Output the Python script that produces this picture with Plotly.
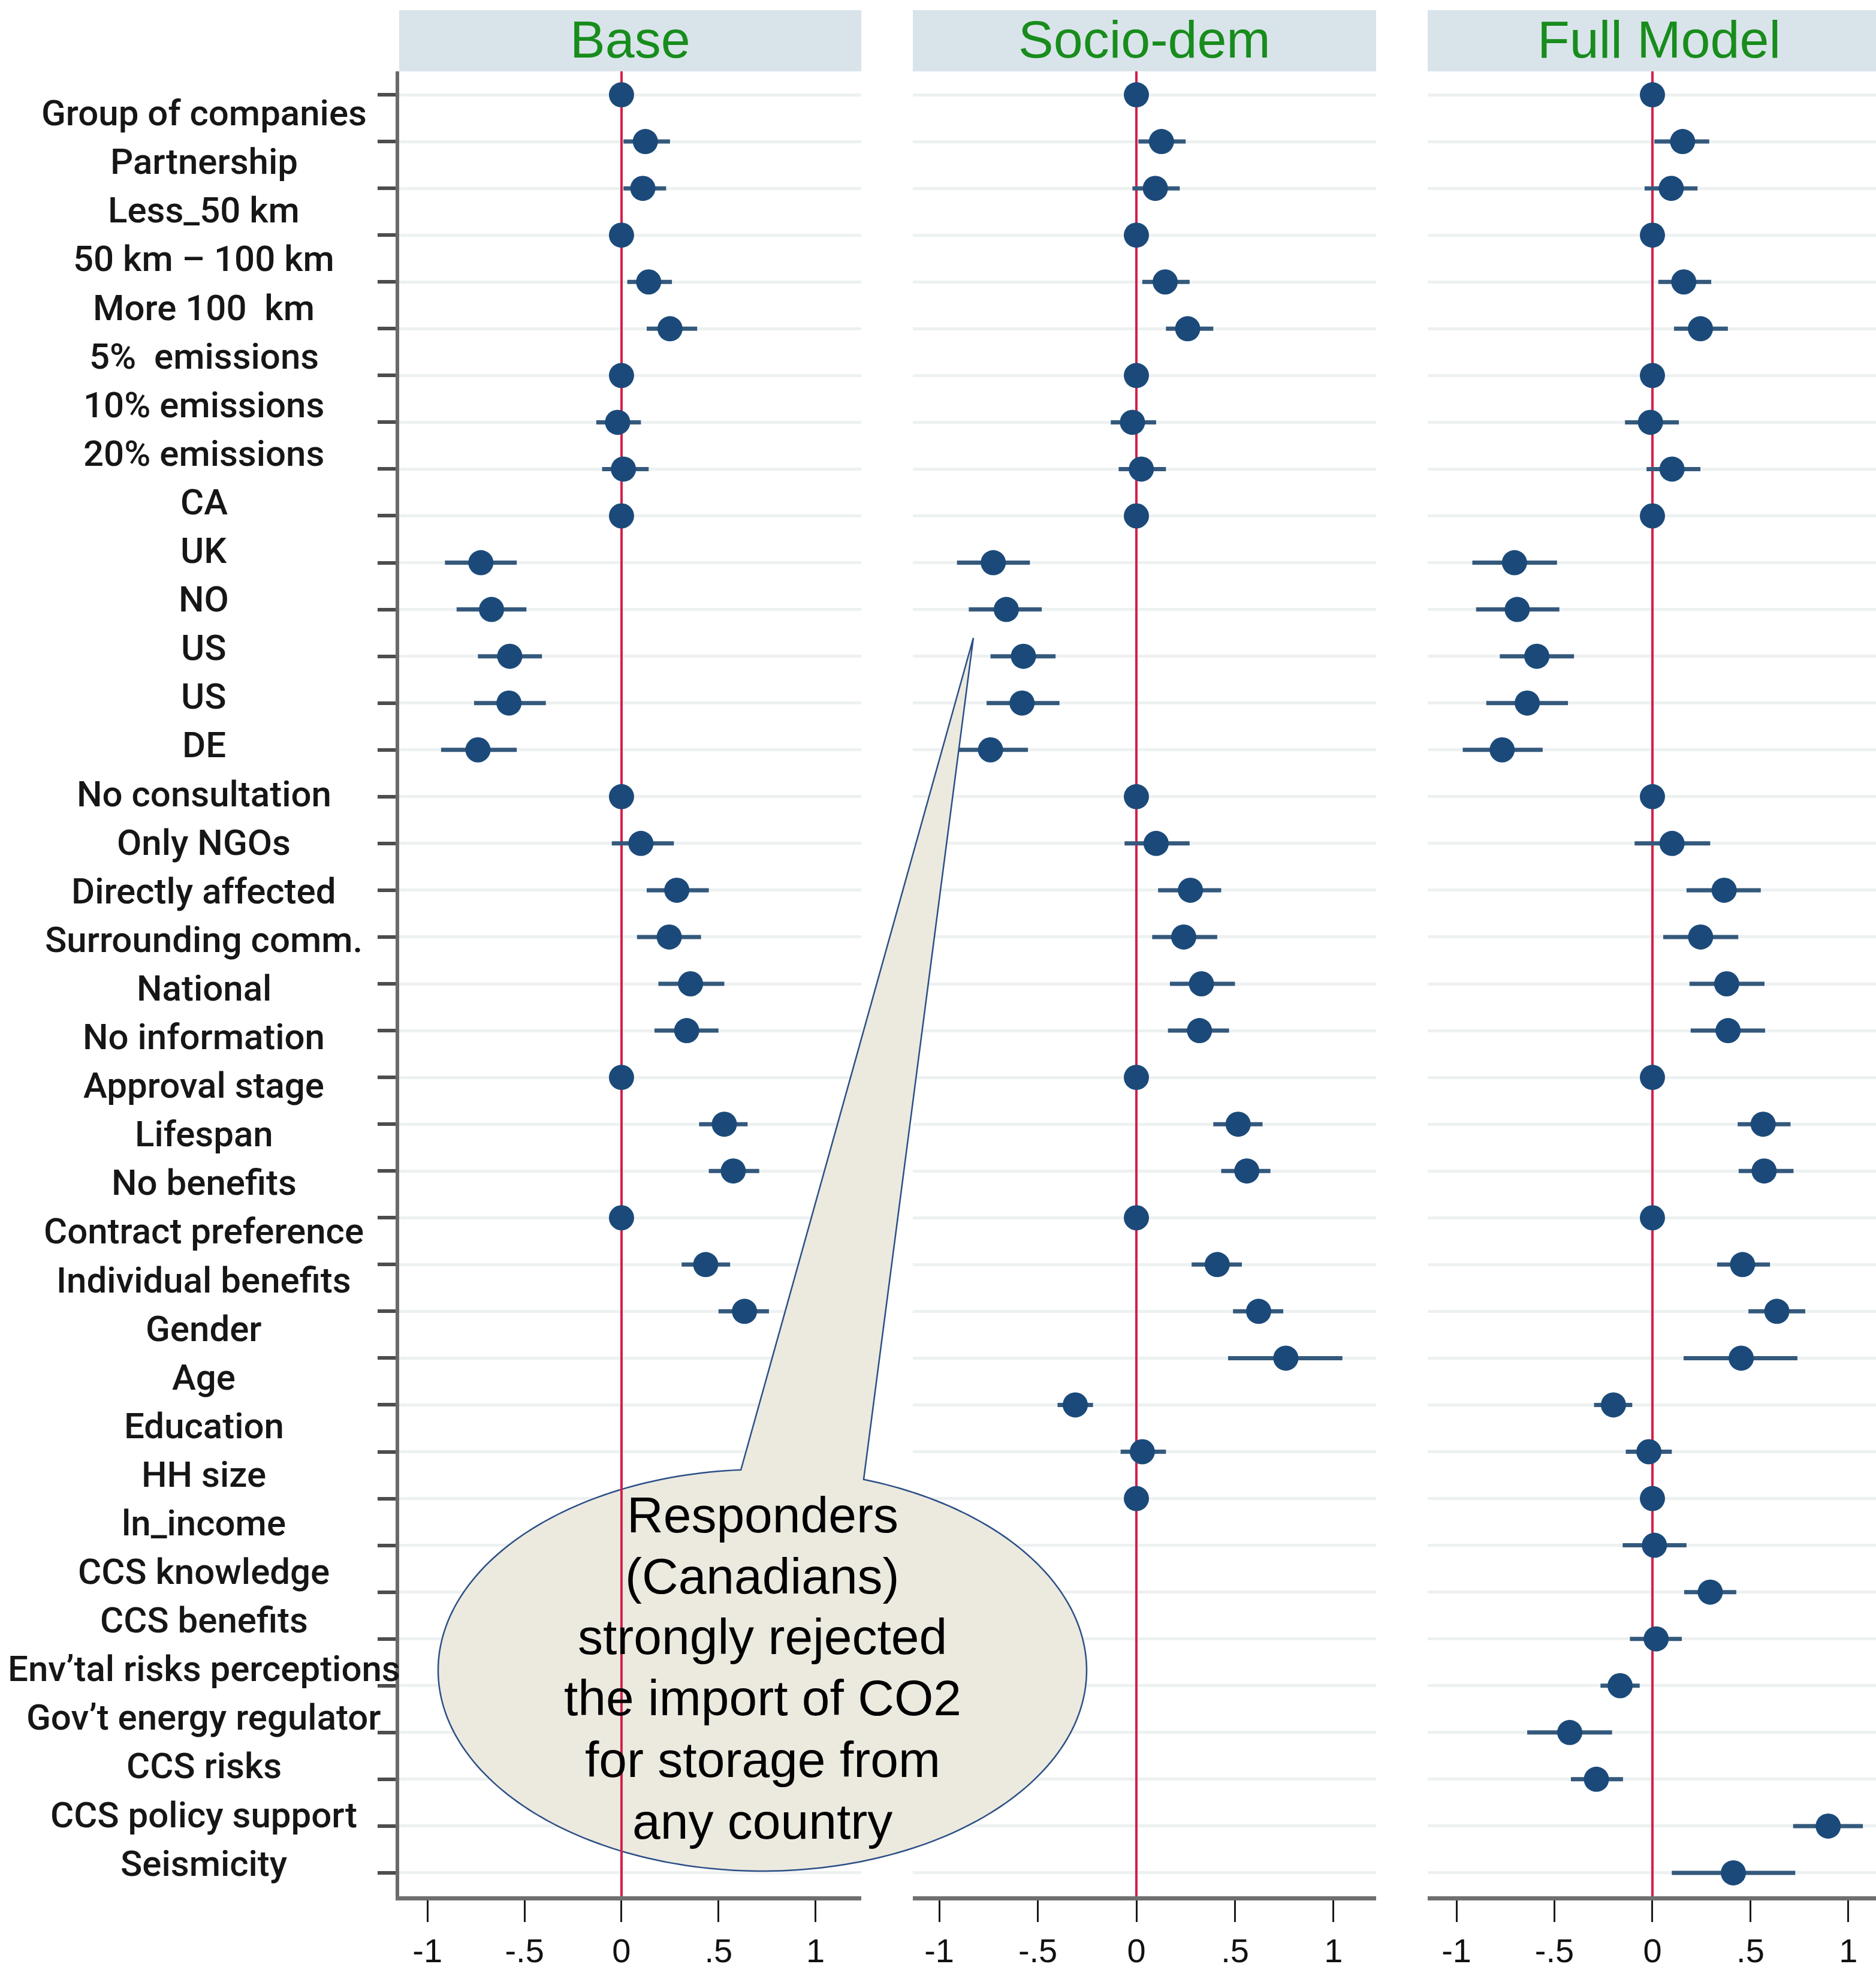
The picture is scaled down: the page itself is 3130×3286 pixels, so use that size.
import numpy as np
import plotly.graph_objects as go

# ---- data -----------------------------------------------------------------
row_ids = list(range(1, 40))

row_labels = [
    "Group of companies", "Partnership", "Less_50 km", "50 km \u2013 100 km",
    "More 100  km", "5%  emissions", "10% emissions", "20% emissions", "CA",
    "UK", "NO", "US", "US", "DE", "No consultation", "Only NGOs",
    "Directly affected", "Surrounding comm.", "National", "No information",
    "Approval stage", "Lifespan", "No benefits", "Contract preference",
    "Individual benefits", "Gender", "Age", "Education", "HH size",
    "ln_income", "CCS knowledge", "CCS benefits",
    "Env\u2019tal risks perceptions", "Gov\u2019t energy regulator",
    "CCS risks", "CCS policy support", "Seismicity",
]

panel_titles = ["Base", "Socio-dem", "Full Model"]

base_coef = [0, 0.123, 0.11, 0, 0.14, 0.25, 0, -0.02, 0.01, 0,
             -0.725, -0.67, -0.576, -0.58, -0.74, 0, 0.10, 0.285, 0.246, 0.356,
             0.336, 0, 0.53, 0.576, 0, 0.434, 0.634]
base_lo = [0, 0.01, 0.01, 0, 0.03, 0.13, 0, -0.13, -0.10, 0,
           -0.91, -0.85, -0.74, -0.76, -0.93, 0, -0.05, 0.13, 0.08, 0.19,
           0.17, 0, 0.40, 0.45, 0, 0.31, 0.50]
base_hi = [0, 0.25, 0.23, 0, 0.26, 0.39, 0, 0.10, 0.14, 0,
           -0.54, -0.49, -0.41, -0.39, -0.54, 0, 0.27, 0.45, 0.41, 0.53,
           0.50, 0, 0.65, 0.71, 0, 0.56, 0.76]

socio_coef = [0, 0.127, 0.096, 0, 0.146, 0.26, 0, -0.02, 0.025, 0,
              -0.726, -0.66, -0.573, -0.58, -0.74, 0, 0.10, 0.274, 0.24, 0.33,
              0.32, 0, 0.516, 0.56, 0, 0.41, 0.62, 0.758, -0.31, 0.03,
              0]
socio_lo = [0, 0.01, -0.02, 0, 0.03, 0.15, 0, -0.13, -0.09, 0,
            -0.91, -0.85, -0.74, -0.76, -0.92, 0, -0.06, 0.11, 0.08, 0.17,
            0.16, 0, 0.39, 0.43, 0, 0.28, 0.49, 0.465, -0.40, -0.08,
            0]
socio_hi = [0, 0.25, 0.22, 0, 0.27, 0.39, 0, 0.10, 0.15, 0,
            -0.54, -0.48, -0.41, -0.39, -0.55, 0, 0.27, 0.43, 0.41, 0.50,
            0.47, 0, 0.64, 0.68, 0, 0.535, 0.745, 1.045, -0.22, 0.15,
            0]

full_coef = [0, 0.154, 0.096, 0, 0.16, 0.245, 0, -0.01, 0.10, 0,
             -0.704, -0.69, -0.59, -0.639, -0.767, 0, 0.10, 0.366, 0.246, 0.379,
             0.386, 0, 0.565, 0.57, 0, 0.46, 0.635, 0.453, -0.199, -0.018,
             0, 0.01, 0.295, 0.019, -0.165, -0.422, -0.286, 0.897, 0.413]
full_lo = [0, 0.01, -0.04, 0, 0.03, 0.11, 0, -0.14, -0.03, 0,
           -0.919, -0.90, -0.779, -0.848, -0.968, 0, -0.091, 0.174, 0.055, 0.189,
           0.195, 0, 0.435, 0.44, 0, 0.33, 0.49, 0.159, -0.298, -0.136,
           0, -0.152, 0.162, -0.115, -0.265, -0.639, -0.416, 0.718, 0.099]
full_hi = [0, 0.29, 0.23, 0, 0.30, 0.385, 0, 0.135, 0.245, 0,
           -0.487, -0.475, -0.40, -0.431, -0.56, 0, 0.295, 0.553, 0.438, 0.572,
           0.575, 0, 0.705, 0.72, 0, 0.60, 0.78, 0.74, -0.103, 0.099,
           0, 0.174, 0.428, 0.15, -0.065, -0.206, -0.150, 1.074, 0.729]

tick_vals = [-1, -0.5, 0, 0.5, 1]
tick_text = ["-1", "-.5", "0", ".5", "1"]

callout_lines = ["Responders", "(Canadians)", "strongly rejected",
                 "the import of CO2", "for storage from", "any country"]

# ---- geometry (pixels of the 3130 x 3286 canvas) --------------------------
W, H = 3130, 3286


def px(x):
    return x / W


def py(y):
    return 1 - y / H


panel_px = [(666, 1437), (1523, 2296), (2382, 3153)]
x_ranges = [[-1.146, 1.236], [-1.134, 1.216], [-1.147, 1.141]]
plot_top, plot_bottom = 119, 3163
strip_top = 17

MARKER = "#1b4a7a"
CI = "#34597c"
RED = "#d2204a"
GRID = "#eef1f1"

fig = go.Figure()

models = [(base_coef, base_lo, base_hi),
          (socio_coef, socio_lo, socio_hi),
          (full_coef, full_lo, full_hi)]

for k, (coef, lo, hi) in enumerate(models):
    c = np.array(coef, dtype=float)
    plus = np.array(hi, dtype=float) - c
    minus = c - np.array(lo, dtype=float)
    sfx = "" if k == 0 else str(k + 1)
    fig.add_trace(go.Scatter(
        x=c, y=row_ids[:len(c)], mode="markers",
        xaxis="x" + sfx, yaxis="y" + sfx,
        marker=dict(color=MARKER, size=42, line=dict(width=0)),
        error_x=dict(type="data", symmetric=False, array=plus,
                     arrayminus=minus, thickness=7, width=0, color=CI),
        showlegend=False, hoverinfo="skip",
    ))

layout = dict(
    width=W, height=H, margin=dict(l=0, r=0, t=0, b=0),
    paper_bgcolor="white", plot_bgcolor="white", showlegend=False,
)

for k in range(3):
    sfx = "" if k == 0 else str(k + 1)
    x0, x1 = panel_px[k]
    layout["xaxis" + sfx] = dict(
        domain=[px(x0), min(px(x1), 1.0)], range=x_ranges[k],
        anchor="y" + sfx, showgrid=False,
        zeroline=True, zerolinecolor=RED, zerolinewidth=4,
        showline=True, linecolor="#6f6f6f", linewidth=7,
        ticks="outside", ticklen=36, tickwidth=3, tickcolor="#1a1a1a",
        tickvals=tick_vals, ticktext=tick_text,
        tickfont=dict(family="Liberation Sans, Arial", size=56, color="#111111"),
        fixedrange=True,
    )
    ycfg = dict(
        domain=[py(plot_bottom), py(plot_top)], range=[39.5, 0.5],
        anchor="x" + sfx, tickvals=row_ids, showticklabels=False,
        showgrid=True, gridcolor=GRID, gridwidth=5, zeroline=False,
        fixedrange=True,
    )
    if k == 0:
        ycfg.update(showline=True, linecolor="#6a6a6a", linewidth=6,
                    ticks="outside", ticklen=30, tickwidth=6, tickcolor="#4d4d4d")
    else:
        ycfg.update(showline=False, ticks="")
    layout["yaxis" + sfx] = ycfg

fig.update_layout(**layout)

# ---- panel header strips and titles ---------------------------------------
for k, title in enumerate(panel_titles):
    x0, x1 = panel_px[k]
    fig.add_shape(type="rect", xref="paper", yref="paper",
                  x0=px(x0), x1=min(px(x1), 1.0),
                  y0=py(plot_top), y1=py(strip_top),
                  fillcolor="#d9e4ea", line=dict(width=0), layer="below")
    fig.add_annotation(xref="paper", yref="paper",
                       x=px((x0 + x1) / 2), y=py((strip_top + plot_top) / 2 - 2),
                       text=title, showarrow=False, xanchor="center", yanchor="middle",
                       font=dict(family="Liberation Sans, Arial", size=88, color="#188c1c"))

# ---- row labels on the left -------------------------------------------------
for i, lab in enumerate(row_labels):
    fig.add_annotation(xref="paper", yref="paper", x=px(340),
                       y=py(188.6 + i * 81.1), text=lab, showarrow=False,
                       xanchor="center", yanchor="middle",
                       font=dict(family="Roboto, Liberation Sans, Arial",
                                 size=60, weight=500, color="#161616"))

# ---- speech-bubble callout ----------------------------------------------------
cx, cy, rx, ry = 1272, 2786, 541, 335
tip = (1624, 1064)
a_left = np.deg2rad(-93.8)
a_right = np.deg2rad(-71.8)
arc = np.linspace(a_right, a_left + 2 * np.pi, 240)
pts = [(cx + rx * np.cos(a_left), cy + ry * np.sin(a_left)), tip]
pts += [(cx + rx * np.cos(t), cy + ry * np.sin(t)) for t in arc]
path = "M " + " L ".join(f"{px(x):.5f},{py(y):.5f}" for x, y in pts) + " Z"
fig.add_shape(type="path", xref="paper", yref="paper", path=path,
              fillcolor="#ece9df", line=dict(color="#2b4f86", width=2.5),
              layer="above")

# zero line of the first panel stays visible across the bubble
fig.add_shape(type="line", xref="x", yref="y", x0=0, x1=0, y0=29.0, y1=39.5,
              line=dict(color=RED, width=4), layer="above")

line_y = [2527, 2629, 2730, 2832, 2935, 3038]
for txt, yy in zip(callout_lines, line_y):
    fig.add_annotation(xref="paper", yref="paper", x=px(1272), y=py(yy),
                       text=txt, showarrow=False, xanchor="center", yanchor="middle",
                       font=dict(family="Liberation Sans, Arial", size=84, color="#000000"))

fig.write_html("out.html")
